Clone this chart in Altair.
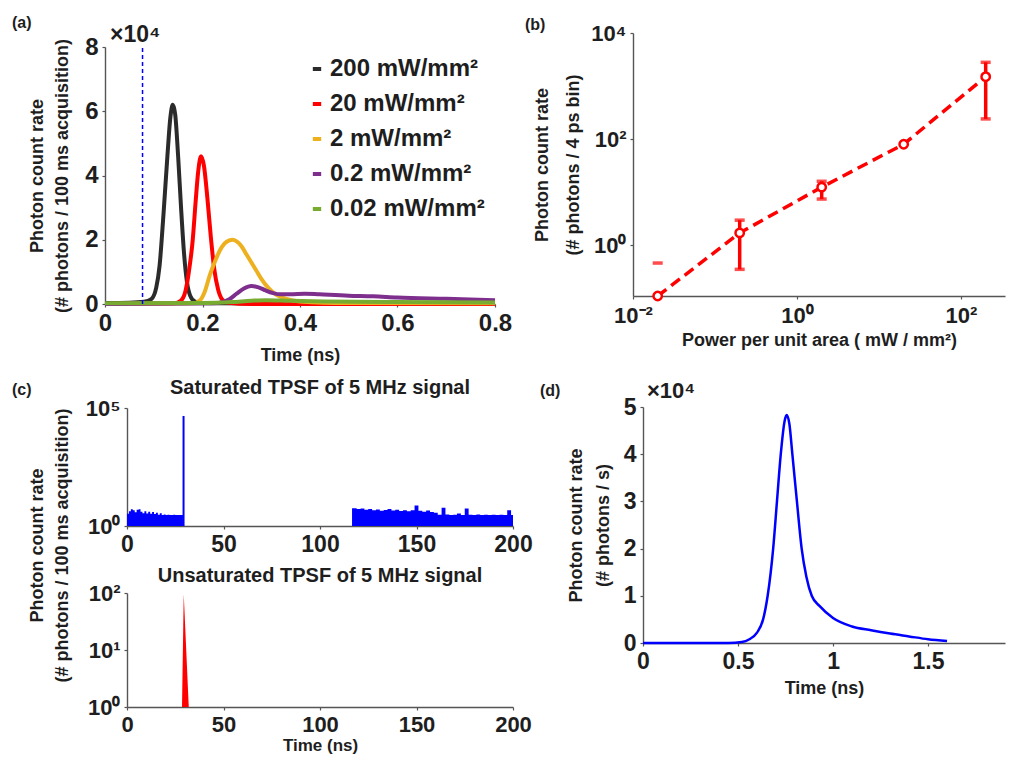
import altair as alt
import pandas as pd

FONT = "Liberation Sans"
INK = "#1e1e1e"
AXC = "#555555"
W, H = 999, 746

# ---------------- panel (a) data ----------------
a_series = ["200 mW/mm²", "20 mW/mm²", "2 mW/mm²", "0.2 mW/mm²", "0.02 mW/mm²"]
a_colors = ["#2b2b2b", "#ff0000", "#edb120", "#7e2f8e", "#77ac30"]
a_t_200 = [0, 0.05, 0.08, 0.095, 0.105, 0.112, 0.12, 0.128, 0.134, 0.139, 0.144, 0.15, 0.156, 0.162, 0.168, 0.175, 0.185, 0.2, 0.3, 0.8]
a_v_200 = [0.03, 0.04, 0.07, 0.15, 0.5, 1.2, 2.8, 4.6, 5.8, 6.2, 5.9, 4.6, 3.0, 1.6, 0.7, 0.25, 0.07, 0.03, 0.02, 0.02]
a_t_20 = [0, 0.14, 0.155, 0.165, 0.172, 0.18, 0.186, 0.191, 0.197, 0.203, 0.21, 0.217, 0.224, 0.232, 0.24, 0.25, 0.3, 0.45, 0.8]
a_v_20 = [0.0, 0.02, 0.1, 0.4, 1.0, 2.0, 3.2, 4.1, 4.6, 4.3, 3.3, 2.1, 1.1, 0.45, 0.15, 0.05, 0.0, 0.0, 0.0]
a_t_2 = [0, 0.18, 0.195, 0.205, 0.215, 0.225, 0.235, 0.245, 0.255, 0.262, 0.27, 0.28, 0.29, 0.3, 0.31, 0.32, 0.335, 0.35, 0.37, 0.4, 0.5, 0.8]
a_v_2 = [0, 0.02, 0.12, 0.4, 0.9, 1.3, 1.65, 1.88, 1.98, 2.0, 1.95, 1.8, 1.55, 1.3, 1.05, 0.8, 0.5, 0.3, 0.17, 0.08, 0.03, 0.02]
a_t_02 = [0, 0.22, 0.24, 0.255, 0.27, 0.285, 0.3, 0.315, 0.33, 0.345, 0.36, 0.38, 0.41, 0.44, 0.5, 0.55, 0.6, 0.7, 0.8]
a_v_02 = [0.0, 0.02, 0.06, 0.15, 0.32, 0.48, 0.56, 0.52, 0.42, 0.34, 0.3, 0.3, 0.32, 0.3, 0.26, 0.24, 0.2, 0.16, 0.12]
a_t_002 = [0, 0.2, 0.26, 0.3, 0.33, 0.38, 0.45, 0.6, 0.8]
a_v_002 = [0.02, 0.03, 0.06, 0.1, 0.12, 0.1, 0.08, 0.06, 0.05]
a_trigger = [0.077]

# ---------------- panel (b) data ----------------
b_power = [0.02, 0.2, 2, 20, 200]
b_rate = [0.11, 1.7, 12.4, 80, 1500]
b_err_x = [0.2, 2, 200]
b_err_lo = [0.35, 7.4, 240]
b_err_hi = [2.96, 16, 2800]
b_cap_x = [0.02, 0.2, 0.2, 2, 2, 200, 200]
b_cap_y = [0.46, 0.35, 2.96, 7.4, 16, 240, 2800]

# ---------------- panel (c) data ----------------
c_sat_left_t = [0, 1, 2, 3, 4, 5, 6, 7, 8, 9, 10, 11, 12, 13, 14, 15, 16, 17, 18, 19,
                20, 21, 22, 23, 24, 25, 26, 27, 28, 29]
c_sat_left_v = [3.3, 4.2, 5.1, 4.6, 3.8, 4.9, 5.1, 4.0, 3.5, 4.2, 3.4, 4.0, 3.3, 3.9, 3.2, 3.6, 3.0, 3.5, 2.9, 3.1,
                2.9, 3.0, 2.9, 2.9, 3.0, 2.9, 2.9, 2.9, 2.9, 2.9]
c_sat_right_t = [116.6, 119, 121, 123, 125, 127, 129, 131, 133, 135, 137, 139,
                 141, 143, 145, 147, 149, 151, 153, 155, 157, 159,
                 161, 163, 165, 167, 169, 171, 173, 175, 177, 179, 181, 183, 185, 187, 189, 191, 193, 195, 197, 199, 200]
c_sat_right_v = [5.6, 5.2, 5.5, 4.9, 5.3, 4.6, 5.0, 4.4, 4.8, 5.2, 4.5, 4.9,
                 4.3, 4.7, 4.2, 4.6, 7.4, 4.4, 4.0, 4.5, 3.9, 3.6,
                 3.0, 6.0, 3.1, 2.9, 3.0, 3.4, 2.9, 5.5, 3.0, 2.9, 3.1, 2.9, 3.0, 2.9, 3.0, 2.9, 3.0, 2.9, 4.6, 2.9, 2.9]
c_sat_peak_t = [29.3]
c_sat_peak_v = [46000]
c_unsat_t = [28.5, 29.4, 32.0]
c_unsat_v = [1, 95, 1]

# ---------------- panel (d) data ----------------
d_t = [0, 0.45, 0.52, 0.56, 0.6, 0.632, 0.656, 0.685, 0.705, 0.725, 0.745, 0.756, 0.77, 0.786, 0.81,
       0.835, 0.86, 0.888, 0.93, 1.0, 1.1, 1.2, 1.3, 1.4, 1.5, 1.6]
d_v = [0, 0, 0.02, 0.08, 0.22, 0.5, 1.0, 2.0, 3.0, 4.0, 4.7, 4.83, 4.65, 4.0, 3.0,
       2.0, 1.4, 1.0, 0.78, 0.53, 0.35, 0.27, 0.2, 0.14, 0.08, 0.04]

# panel frames in chart pixels: (left, right, top, bottom)
FA = (97, 487, 39, 296)
FB = (625, 997, 25, 288)
FC1 = (119, 505, 400, 518)
FC2 = (119, 505, 585, 699)
FD = (635, 997, 399, 635)


def log_label_expr(mapping):
    parts = [f"abs(datum.value - {v}) < {v}*0.01 ? '{t}' : " for v, t in mapping]
    return "".join(parts) + "''"


def axis(**kw):
    base = dict(labelFont=FONT, labelFontSize=22, labelFontWeight="bold", labelColor=INK,
                titleFont=FONT, titleFontSize=18, titleFontWeight="bold", titleColor=INK,
                domainColor=AXC, domainWidth=1.4, tickColor=AXC, tickWidth=1.2, tickSize=3,
                grid=False, labelOverlap=False, labelFlush=False, labelPadding=4)
    base.update(kw)
    return alt.Axis(**base)


def xscale(frame, domain, kind="linear"):
    kw = dict(type=kind, domain=domain, range=[frame[0], frame[1]], nice=False)
    if kind == "linear":
        kw["zero"] = False
    return alt.Scale(**kw)


def yscale(frame, domain, kind="linear"):
    kw = dict(type=kind, domain=domain, range=[frame[3], frame[2]], nice=False)
    if kind == "linear":
        kw["zero"] = False
    return alt.Scale(**kw)


def xaxis(frame, **kw):
    return axis(orient="bottom", offset=frame[3] - H, **kw)


def yaxis(frame, **kw):
    return axis(orient="left", offset=-frame[0], **kw)


def note(txt, x, y, size=16, align="left", weight="bold"):
    return alt.Chart(pd.DataFrame({"s": [txt]})).mark_text(
        font=FONT, fontSize=size, fontWeight=weight, color=INK, align=align, baseline="middle"
    ).encode(text="s:N", x=alt.value(x), y=alt.value(y))


layers = []

# ---------------- panel (a) ----------------
rows = []
for name, ts, vs in zip(a_series, [a_t_200, a_t_20, a_t_2, a_t_02, a_t_002],
                        [a_v_200, a_v_20, a_v_2, a_v_02, a_v_002]):
    rows += [{"series": name, "t": t, "v": v} for t, v in zip(ts, vs)]
df_a = pd.DataFrame(rows)
sxa = xscale(FA, [0, 0.8])
sya = yscale(FA, [0, 8])

layers.append(alt.Chart(df_a).mark_line(strokeWidth=4, interpolate="monotone").encode(
    x=alt.X("t:Q", scale=sxa, axis=xaxis(FA, values=[0, 0.2, 0.4, 0.6, 0.8], format="~g",
                                           title="Time (ns)", labelFontSize=24, titlePadding=11)),
    y=alt.Y("v:Q", scale=sya, axis=yaxis(FA, values=[0, 2, 4, 6, 8], labelFontSize=24,
                                           title=["Photon count rate", "(# photons / 100 ms acquisition)"],
                                           titlePadding=13, titleLineHeight=25)),
    color=alt.Color("series:N", scale=alt.Scale(domain=a_series, range=a_colors),
                    legend=alt.Legend(title=None, orient="none", legendX=297, legendY=49,
                                      symbolType="stroke", symbolStrokeWidth=4, symbolSize=70,
                                      labelFont=FONT, labelFontSize=24, labelFontWeight="bold",
                                      labelColor=INK, rowPadding=11, labelOffset=1)),
))
layers.append(alt.Chart(pd.DataFrame({"t": a_trigger, "lo": [0], "hi": [8]})).mark_rule(
    color="#0000ff", strokeDash=[4, 3], strokeWidth=1.5).encode(
    x=alt.X("t:Q", scale=sxa, axis=None), y=alt.Y("lo:Q", scale=sya, axis=None), y2="hi:Q"))
layers.append(note("(a)", 4, 15))
layers.append(note("×10⁴", 102, 27, size=23))

# ---------------- panel (b) ----------------
RED = "#ff0000"
sxb = xscale(FB, [0.01, 344], "log")
syb = yscale(FB, [0.11, 10000], "log")
df_b = pd.DataFrame({"p": b_power, "v": b_rate})
layers.append(alt.Chart(pd.DataFrame({"p": b_err_x, "v": b_err_lo, "hi": b_err_hi})).mark_rule(
    color=RED, strokeWidth=3.5).encode(
    x=alt.X("p:Q", scale=sxb, axis=None), y=alt.Y("v:Q", scale=syb, axis=None), y2="hi:Q"))
layers.append(alt.Chart(df_b).mark_line(color=RED, strokeWidth=3.5, strokeDash=[11, 6]).encode(
    x=alt.X("p:Q", scale=sxb, axis=xaxis(FB, values=[0.01, 1, 100], title="Power per unit area ( mW / mm²)",
                                          labelExpr=log_label_expr([(0.01, "10⁻²"), (1, "10⁰"), (100, "10²")]),
                                          labelPadding=6, titlePadding=5)),
    y=alt.Y("v:Q", scale=syb, axis=yaxis(FB, values=[1, 100, 10000],
                                          title=["Photon count rate", "(# photons / 4 ps bin)"],
                                          labelExpr=log_label_expr([(1, "10⁰"), (100, "10²"), (10000, "10⁴")]),
                                          titlePadding=8, titleLineHeight=31))))
layers.append(alt.Chart(pd.DataFrame({"p": b_cap_x, "v": b_cap_y})).mark_tick(
    color=RED, orient="horizontal", size=10, thickness=3.5).encode(
    x=alt.X("p:Q", scale=sxb, axis=None), y=alt.Y("v:Q", scale=syb, axis=None)))
layers.append(alt.Chart(df_b).mark_point(shape="circle", filled=True, fill="white", stroke=RED,
                                         strokeWidth=2.5, size=70, opacity=1).encode(
    x=alt.X("p:Q", scale=sxb, axis=None), y=alt.Y("v:Q", scale=syb, axis=None)))
layers.append(note("(b)", 517, 17))

# ---------------- panel (c) ----------------
BLUE = "#0000ff"
sxc1 = xscale(FC1, [0, 200])
syc1 = yscale(FC1, [1, 100000], "log")
sxc2 = xscale(FC2, [0, 200])
syc2 = yscale(FC2, [1, 100], "log")
sat_rows = [{"t": t, "v": v, "base": 1, "block": "early"} for t, v in zip(c_sat_left_t, c_sat_left_v)]
sat_rows += [{"t": t, "v": v, "base": 1, "block": "late"} for t, v in zip(c_sat_right_t, c_sat_right_v)]
layers.append(alt.Chart(pd.DataFrame(sat_rows)).mark_area(color=BLUE, interpolate="step-after", opacity=1).encode(
    x=alt.X("t:Q", scale=sxc1, axis=xaxis(FC1, values=[0, 50, 100, 150, 200], title=None, labelFontSize=23)),
    y=alt.Y("v:Q", scale=syc1, axis=yaxis(FC1, values=[1, 100000],
                                           labelExpr=log_label_expr([(1, "10⁰"), (100000, "10⁵")]),
                                           title=["Photon count rate", "(# photons / 100 ms acquisition)"],
                                           titleY=537, titlePadding=14, titleLineHeight=25)),
    y2="base:Q", detail="block:N"))
layers.append(alt.Chart(pd.DataFrame({"t": c_sat_peak_t, "v": c_sat_peak_v, "base": [1]})).mark_rule(
    color=BLUE, strokeWidth=2).encode(
    x=alt.X("t:Q", scale=sxc1, axis=None), y=alt.Y("v:Q", scale=syc1, axis=None), y2="base:Q"))
layers.append(alt.Chart(pd.DataFrame({"t": c_unsat_t, "v": c_unsat_v, "base": [1, 1, 1]})).mark_area(
    color=RED, opacity=1).encode(
    x=alt.X("t:Q", scale=sxc2, axis=xaxis(FC2, values=[0, 50, 100, 150, 200], title="Time (ns)",
                                           labelFontSize=22, titleFontSize=17, titleY=38,
                                           titleBaseline="middle")),
    y=alt.Y("v:Q", scale=syc2, axis=yaxis(FC2, values=[1, 10, 100], title=None,
                                           labelExpr=log_label_expr([(1, "10⁰"), (10, "10¹"), (100, "10²")]))),
    y2="base:Q"))
layers.append(note("(c)", 4, 382))
layers.append(note("Saturated TPSF of 5 MHz signal", 312, 380, size=20, align="center"))
layers.append(note("Unsaturated TPSF of 5 MHz signal", 312, 568, size=20, align="center"))

# ---------------- panel (d) ----------------
sxd = xscale(FD, [0, 1.905])
syd = yscale(FD, [0, 5])
layers.append(alt.Chart(pd.DataFrame({"t": d_t, "v": d_v})).mark_line(
    color=BLUE, strokeWidth=2.5, interpolate="monotone").encode(
    x=alt.X("t:Q", scale=sxd, axis=xaxis(FD, values=[0, 0.5, 1, 1.5], format="~g", title="Time (ns)",
                                          labelFontSize=23, titlePadding=6)),
    y=alt.Y("v:Q", scale=syd, axis=yaxis(FD, values=[0, 1, 2, 3, 4, 5], format="~g", labelFontSize=23,
                                          title=["Photon count rate", "(# photons / s)"],
                                          titlePadding=11, titleLineHeight=27))))
layers.append(note("(d)", 532, 383))
layers.append(note("×10⁴", 639, 383, size=22))

chart = alt.layer(*layers).resolve_scale(x="independent", y="independent").resolve_axis(
    x="independent", y="independent"
).properties(
    width=W, height=H, padding=0, autosize=alt.AutoSizeParams(type="none")
).configure(background="white").configure_view(stroke="transparent", strokeWidth=0)

chart.save("out.html", embed_options={"renderer": "svg", "actions": False})
